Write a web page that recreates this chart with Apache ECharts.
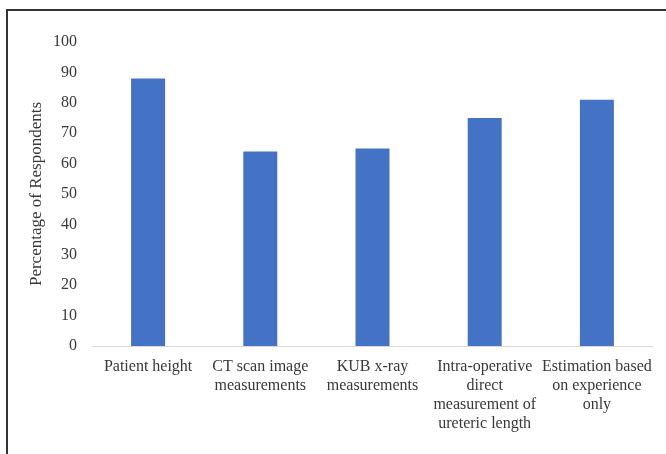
<!DOCTYPE html>
<html>
<head>
<meta charset="utf-8">
<script src="https://cdn.jsdelivr.net/npm/echarts@6/dist/echarts.min.js"></script>
<style>
html,body{margin:0;padding:0;background:#fff;}
#frame{position:absolute;left:6px;top:9px;width:700px;height:500px;border:2px solid #333;box-sizing:border-box;}
#chart{position:absolute;left:0;top:0;width:666px;height:454px;}
</style>
</head>
<body>
<div id="frame"></div>
<div id="chart"></div>
<script>
const categories = [
  "Patient height",
  "CT scan image\nmeasurements",
  "KUB x-ray\nmeasurements",
  "Intra-operative\ndirect\nmeasurement of\nureteric length",
  "Estimation based\non experience\nonly"
];
const values = [88, 64, 65, 75, 81];
const yTicks = { min: 0, max: 100, interval: 10 };
const yAxisTitle = "Percentage of Respondents";

const chart = echarts.init(document.getElementById('chart'), null, { renderer: 'canvas' });
const font = '"Liberation Serif", "Times New Roman", serif';
chart.setOption({
  animation: false,
  backgroundColor: 'transparent',
  grid: { left: 92, right: 13, top: 42, bottom: 108 },
  xAxis: {
    type: 'category',
    data: categories,
    axisLine: { lineStyle: { color: '#d9d9d9', width: 1 } },
    axisTick: { show: false },
    axisLabel: {
      interval: 0, color: '#383838', fontFamily: font, fontSize: 16,
      lineHeight: 19, margin: 11
    }
  },
  yAxis: {
    type: 'value',
    min: yTicks.min, max: yTicks.max, interval: yTicks.interval,
    name: yAxisTitle, nameLocation: 'middle', nameGap: 47,
    nameMoveOverlap: false,
    nameTextStyle: { color: '#383838', fontFamily: font, fontSize: 17 },
    axisLine: { show: false },
    axisTick: { show: false },
    splitLine: { show: false },
    axisLabel: { color: '#383838', fontFamily: font, fontSize: 16, margin: 15 }
  },
  series: [{
    type: 'bar',
    data: values,
    barWidth: 34,
    itemStyle: { color: '#4472C4' }
  }]
});
</script>
</body>
</html>
